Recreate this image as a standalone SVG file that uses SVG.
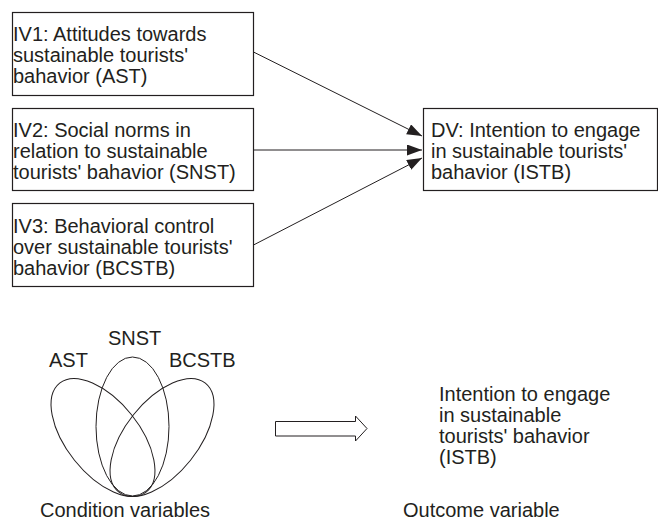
<svg xmlns="http://www.w3.org/2000/svg" width="658" height="521" viewBox="0 0 658 521">
<defs>
<style>
text{font-family:"Liberation Sans",Arial,sans-serif;font-size:20px;fill:#231f20}
.box{fill:#fff;stroke:#231f20;stroke-width:1.2}
.edge{stroke:#231f20;stroke-width:1;fill:none}
.ell{fill:none;stroke:#231f20;stroke-width:1}
</style>
<marker id="ah" markerUnits="userSpaceOnUse" markerWidth="16" markerHeight="12" refX="15" refY="5.5" orient="auto">
<path d="M0,0 L15,5.5 L0,11 Z" fill="#231f20"/>
</marker>
</defs>
<rect width="658" height="521" fill="#fff"/>
<g id="iv1">
<rect class="box" x="12.5" y="12.5" width="241" height="83"/>
<text x="13" y="41">IV1: Attitudes towards</text>
<text x="13" y="62">sustainable tourists'</text>
<text x="13" y="83">bahavior (AST)</text>
</g>
<g id="iv2">
<rect class="box" x="12.5" y="108.5" width="241" height="82"/>
<text x="13" y="137">IV2: Social norms in</text>
<text x="13" y="158">relation to sustainable</text>
<text x="13" y="179">tourists' bahavior (SNST)</text>
</g>
<g id="iv3">
<rect class="box" x="12.5" y="203.5" width="241" height="83"/>
<text x="13" y="232.5">IV3: Behavioral control</text>
<text x="13" y="253.5">over sustainable tourists'</text>
<text x="13" y="274.5">bahavior (BCSTB)</text>
</g>
<g id="dv">
<rect class="box" x="423.5" y="108.5" width="234" height="82"/>
<text x="431" y="137">DV: Intention to engage</text>
<text x="431" y="158">in sustainable tourists'</text>
<text x="431" y="179">bahavior (ISTB)</text>
</g>
<g id="connectors">
<line class="edge" x1="253.5" y1="52" x2="422" y2="136" marker-end="url(#ah)"/>
<line class="edge" x1="253.5" y1="150" x2="422" y2="150" marker-end="url(#ah)"/>
<line class="edge" x1="253.5" y1="245" x2="422" y2="158" marker-end="url(#ah)"/>
</g>
<g id="venn">
<ellipse class="ell" cx="103" cy="437.5" rx="36.5" ry="69.5" transform="rotate(-38.6 103 437.5)"/>
<ellipse class="ell" cx="162" cy="437.5" rx="36.5" ry="69.5" transform="rotate(38.6 162 437.5)"/>
<ellipse class="ell" cx="132.5" cy="426.5" rx="36.5" ry="69.5"/>
<text x="49" y="367">AST</text>
<text x="108" y="345">SNST</text>
<text x="169" y="367">BCSTB</text>
<text x="40" y="517">Condition variables</text>
</g>
<g id="block-arrow">
<polygon points="275.5,421.5 355.5,421.5 355.5,416 367,428.5 355.5,441 355.5,436 275.5,436" fill="#fff" stroke="#231f20" stroke-width="1"/>
</g>
<g id="outcome">
<text x="439" y="401">Intention to engage</text>
<text x="439" y="422">in sustainable</text>
<text x="439" y="443">tourists' bahavior</text>
<text x="439" y="464">(ISTB)</text>
<text x="403" y="517">Outcome variable</text>
</g>
</svg>
